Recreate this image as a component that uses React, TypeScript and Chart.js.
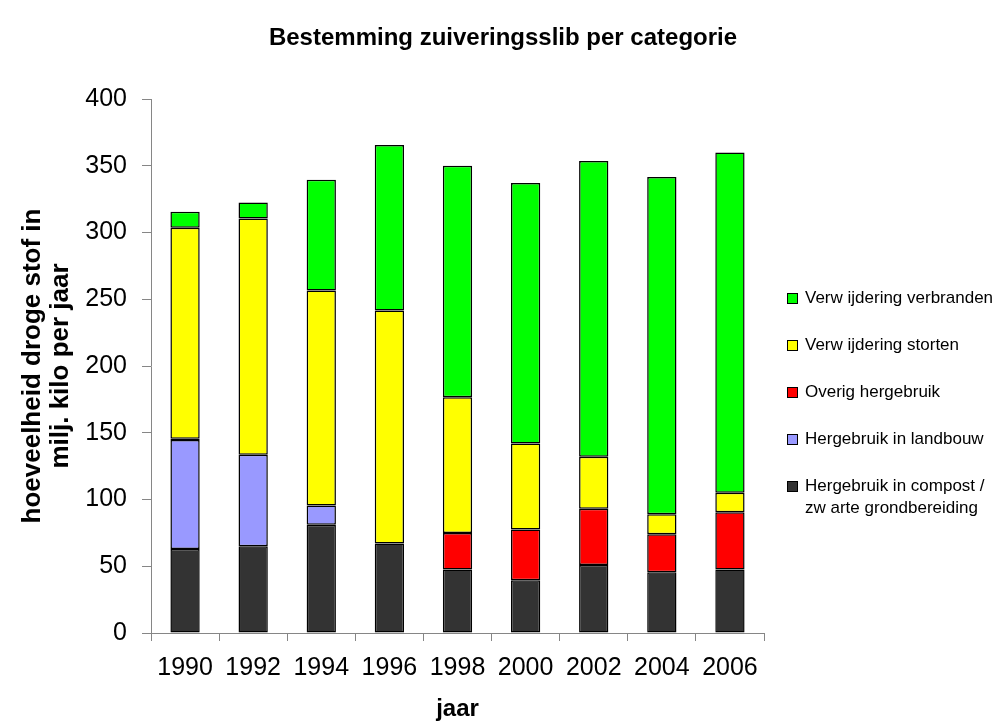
import React, { useEffect, useRef } from "react";
import { Chart, registerables } from "chart.js";

Chart.register(...registerables);

const chartTitle = "Bestemming zuiveringsslib per categorie";
const years = ["1990", "1992", "1994", "1996", "1998", "2000", "2002", "2004", "2006"];
const compost = [63, 65, 81, 67, 47.5, 39.5, 51, 45.5, 47.5];
const landbouw = [81.5, 68.5, 14.5, 0, 0, 0, 0, 0, 0];
const overig = [1, 0, 0, 0, 27.5, 38, 42, 28.5, 43];
const storten = [158, 177, 161, 174.5, 101.5, 64.5, 39, 15, 14.5];
const verbranden = [12, 12, 83, 124, 173.5, 195, 221.5, 252.5, 255];

const seriesNames = [
  ["Hergebruik in compost /", "zw arte grondbereiding"],
  ["Hergebruik in landbouw"],
  ["Overig hergebruik"],
  ["Verw ijdering storten"],
  ["Verw ijdering verbranden"],
];
const seriesColors = ["#333333", "#9999FF", "#FF0000", "#FFFF00", "#00FF00"];
const seriesData = [compost, landbouw, overig, storten, verbranden];

const FONT = "'Liberation Sans', Arial, Helvetica, sans-serif";

const overlayPlugin = {
  id: "overlay",
  afterDraw(chart: any) {
    const ctx = chart.ctx;
    ctx.save();
    // title
    ctx.font = `bold 24px ${FONT}`;
    ctx.fillStyle = "#000000";
    ctx.textAlign = "center";
    ctx.textBaseline = "middle";
    ctx.fillText(chartTitle, 503, 38);
    // legend
    ctx.font = `17px ${FONT}`;
    ctx.textAlign = "left";
    const ys = [298, 345, 392, 439, 486];
    for (let i = 0; i < 5; i++) {
      const idx = 4 - i;
      const y = ys[i];
      ctx.fillStyle = seriesColors[idx];
      ctx.fillRect(787, y - 5, 10, 10);
      ctx.strokeStyle = "#000000";
      ctx.lineWidth = 1;
      ctx.strokeRect(787.5, y - 4.5, 10, 10);
      ctx.fillStyle = "#000000";
      const lines = seriesNames[idx];
      lines.forEach((t, k) => ctx.fillText(t, 805, y + k * 22));
    }
    ctx.restore();
  },
};

export default function App() {
  const ref = useRef<HTMLCanvasElement>(null);
  useEffect(() => {
    if (!ref.current) return;
    const chart = new Chart(ref.current, {
      type: "bar",
      data: {
        labels: years,
        datasets: seriesData.map((d, i) => ({
          label: seriesNames[i].join(" "),
          data: d,
          backgroundColor: seriesColors[i],
          borderColor: "#000000",
          borderWidth: 1.5,
          borderSkipped: false,
          barPercentage: 0.43,
          categoryPercentage: 1,
        })),
      },
      options: {
        responsive: false,
        animation: false,
        layout: { padding: { left: 0, right: 236, top: 99, bottom: 0 } },
        plugins: {
          legend: { display: false },
          tooltip: { enabled: false },
          title: { display: false },
        },
        scales: {
          x: {
            stacked: true,
            afterFit: (s: any) => {
              s.height = 94;
            },
            grid: {
              drawOnChartArea: false,
              drawTicks: true,
              tickLength: 8,
              color: "#868686",
              offset: true,
            },
            border: { color: "#868686", width: 1 },
            ticks: {
              color: "#000000",
              font: { family: FONT, size: 25 },
              padding: 12,
              maxRotation: 0,
            },
            title: {
              display: true,
              text: "jaar",
              color: "#000000",
              font: { family: FONT, size: 24, weight: "bold", lineHeight: 1.2 },
              padding: { top: 0, bottom: 3 },
            },
          },
          y: {
            stacked: true,
            min: 0,
            max: 400,
            afterFit: (s: any) => {
              s.width = 151;
            },
            grid: {
              drawOnChartArea: false,
              drawTicks: true,
              tickLength: 9,
              color: "#868686",
            },
            border: { color: "#868686", width: 1 },
            ticks: {
              stepSize: 50,
              color: "#000000",
              font: { family: FONT, size: 25 },
              padding: 15,
            },
            title: {
              display: true,
              text: ["hoeveelheid droge stof in", "milj. kilo per jaar"],
              color: "#000000",
              font: { family: FONT, size: 26, weight: "bold", lineHeight: "28px" },
              padding: { top: 19, bottom: 0 },
            },
          },
        },
      },
      plugins: [overlayPlugin],
    } as any);
    return () => chart.destroy();
  }, []);
  return (
    <div style={{ position: "absolute", left: 0, top: 0, width: 1000, height: 727, background: "#fff" }}>
      <canvas ref={ref} width={1000} height={727} style={{ width: 1000, height: 727, display: "block" }} />
    </div>
  );
}
